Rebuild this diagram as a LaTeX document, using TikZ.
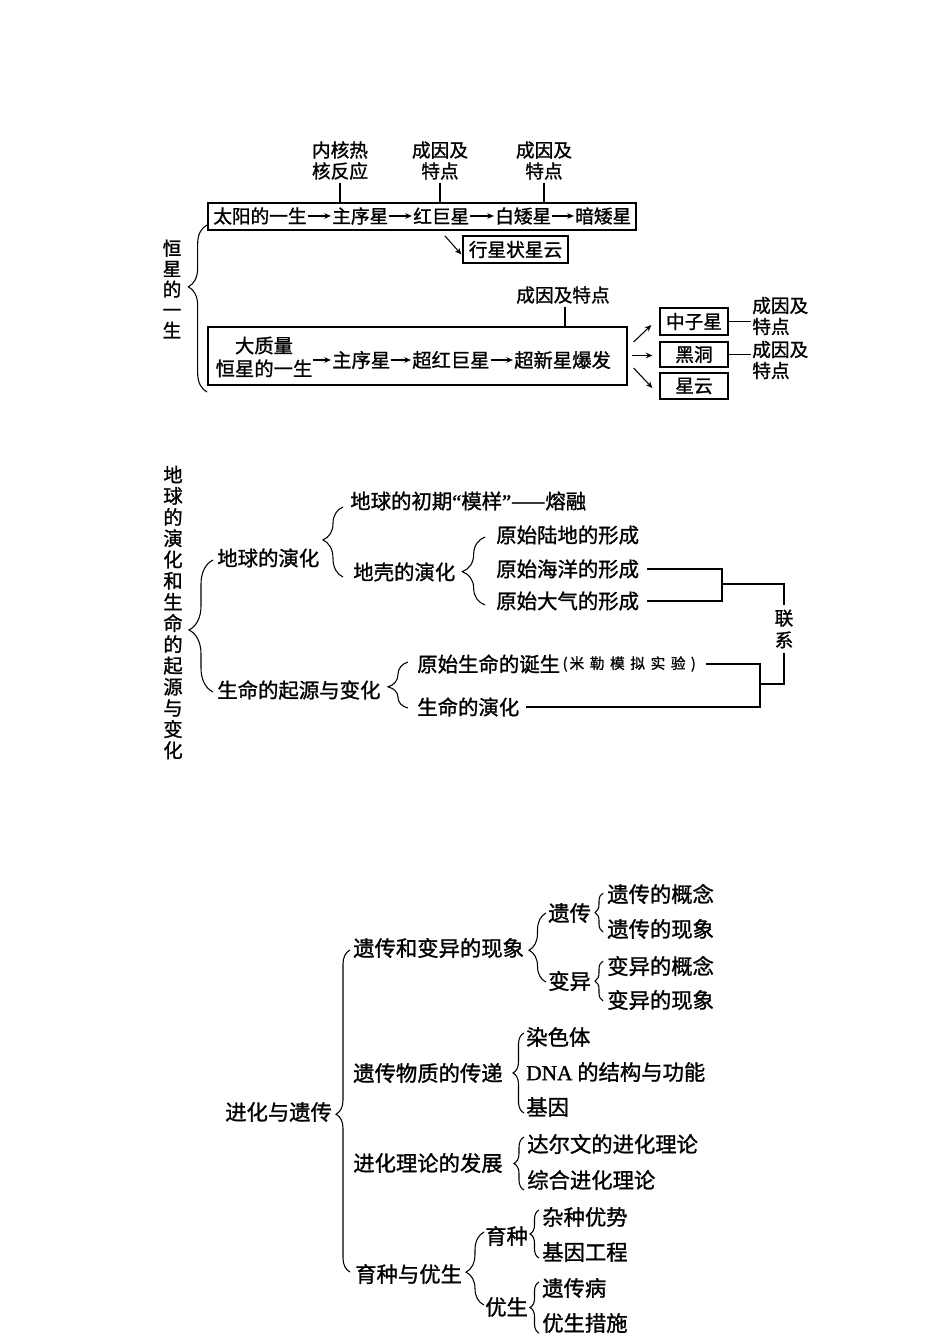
\documentclass[tikz,border=0pt]{standalone}
\usepackage{fontspec}
\newfontfamily\cjk[FakeBold=1.2]{Noto Sans CJK SC}
\newfontfamily\latin[FakeBold=1.2]{Liberation Serif}
\usetikzlibrary{arrows.meta,decorations.pathreplacing,fit,calc}
\begin{document}
\begin{tikzpicture}[x=0.75pt,y=-0.75pt,
 fa/.style={font=\cjk\fontsize{14}{15.75}\selectfont},
 fab/.style={font=\cjk\fontsize{14.5}{17.25}\selectfont},
 fb/.style={font=\cjk\fontsize{15.3}{16}\selectfont},
 fc/.style={font=\cjk\fontsize{16}{17}\selectfont},
 tx/.style={inner sep=0pt, anchor=west},
 boxn/.style={draw, line width=0.9pt, inner sep=0pt},
 arr/.style={-{Stealth[length=5pt,width=4.2pt]}, line width=0.8pt},
 ln/.style={line width=0.8pt},
 brc/.style={decorate, decoration={brace, amplitude=#1}, line width=0.8pt},
]
\useasboundingbox (0,0) rectangle (950,1344);
\fill[white] (0,0) rectangle (950,1344);

% ===== Section 1 =====
\node[tx,fa] (s1) at (213,216) {太阳的一生};
\node[tx,fa] (s2) at (332,216) {主序星};
\node[tx,fa] (s3) at (413,216) {红巨星};
\node[tx,fa] (s4) at (495,216) {白矮星};
\node[tx,fa] (s5) at (575,216) {暗矮星};
\draw[arr] ([xshift=0.5pt]s1.east) -- ([xshift=-0.8pt]s2.west);
\draw[arr] ([xshift=0.5pt]s2.east) -- ([xshift=-0.8pt]s3.west);
\draw[arr] ([xshift=0.5pt]s3.east) -- ([xshift=-0.8pt]s4.west);
\draw[arr] ([xshift=0.5pt]s4.east) -- ([xshift=-0.8pt]s5.west);
\node[boxn, fit={(208,203)(636,230)}] (b1) {};

\node[fa, align=center, inner sep=0pt] (l1) at (340,160.5) {内核热\\核反应};
\node[fa, align=center, inner sep=0pt] (l2) at (440,160.5) {成因及\\特点};
\node[fa, align=center, inner sep=0pt] (l3) at (544,160.5) {成因及\\特点};
\draw[ln] ([yshift=-2pt]l1.south) -- (l1.south |- b1.north);
\draw[ln] ([yshift=-2pt]l2.south) -- (l2.south |- b1.north);
\draw[ln] ([yshift=-2pt]l3.south) -- (l3.south |- b1.north);

\node[boxn, fa, minimum width=78.75pt, minimum height=20.25pt] (pn) at (515.5,249.5) {行星状星云};
\coordinate (pa) at (445,236);
\draw[arr] (pa) -- ($(pn.west)+(-1,5)$);

\draw[brc=14pt, decoration={aspect=0.63}] (207,392) -- (207,225);
\node[font=\cjk\fontsize{14}{15.4}\selectfont, align=center, inner sep=0pt] (v1) at (172,289) {恒\\星\\的\\一\\生};

\node[fa, inner sep=0pt] (l4) at (563,295) {成因及特点};
\node[boxn, fit={(208,327)(627,385)}] (b2) {};
\draw[ln] ([yshift=-2pt]l4.south -| 565,0) -- (565,300 |- b2.north);
\node[fab, align=center, inner sep=0pt] (dz) at (264,357) {大质量\\恒星的一生};
\node[tx,fab] (t2) at (332,360) {主序星};
\node[tx,fab] (t3) at (412,360) {超红巨星};
\node[tx,fab] (t4) at (514,360) {超新星爆发};
\draw[arr] (dz.east |- t2.west) -- ([xshift=-0.8pt]t2.west);
\draw[arr] ([xshift=0.5pt]t2.east) -- ([xshift=-0.8pt]t3.west);
\draw[arr] ([xshift=0.5pt]t3.east) -- ([xshift=-0.8pt]t4.west);

\node[boxn, fa, minimum width=51pt, minimum height=20.25pt] (zz) at (694,321.5) {中子星};
\node[boxn, fa, minimum width=51pt, minimum height=18.75pt] (hd) at (694,354.5) {黑洞};
\node[boxn, fa, minimum width=51pt, minimum height=19.5pt] (xy) at (694,386) {星云};
\draw[arr] ($(b2.east)+(6,-14)$) -- ($(zz.west)+(-8,3.5)$);
\draw[arr] ($(hd.west)+(-27,1)$) -- ($(hd.west)+(-7,1)$);
\draw[arr] ($(b2.east)+(6,12)$) -- ($(xy.west)+(-7,2)$);
\node[fa, align=left, inner sep=0pt, anchor=west] (c1) at (752,316) {成因及\\特点};
\node[fa, align=left, inner sep=0pt, anchor=west] (c2) at (752,360) {成因及\\特点};
\draw[ln] (zz.east) -- ([xshift=-1pt]zz.east -| c1.west);
\draw[ln] (hd.east) -- ([xshift=-1pt]hd.east -| c2.west);

% ===== Section 2 =====
\node[font=\cjk\fontsize{14.5}{15.9}\selectfont, align=center, inner sep=0pt] (v2) at (173,612.5)
  {地\\球\\的\\演\\化\\和\\生\\命\\的\\起\\源\\与\\变\\化};
\draw[brc=18pt, decoration={aspect=0.47}] (213,692) -- (213,560);
\node[tx,fb] (e1) at (217,558) {地球的演化};
\draw[brc=15pt, decoration={aspect=0.53}] (343,577) -- (343,507);
\node[tx,fb] (e2) at (350,501) {地球的初期{\latin “}模样{\latin ”}——熔融};
\node[tx,fb] (e3) at (353,572) {地壳的演化};
\draw[brc=17pt, decoration={aspect=0.49}] (485,605) -- (485,537);
\node[tx,fb] (e4) at (496,535) {原始陆地的形成};
\node[tx,fb] (e5) at (496,569) {原始海洋的形成};
\node[tx,fb] (e6) at (496,601) {原始大气的形成};
\draw[brc=15pt, decoration={aspect=0.46}] (408,708) -- (408,662);
\node[tx,fb] (e7) at (217,690) {生命的起源与变化};
\node[tx,fb] (e8) at (417,664) {原始生命的诞生};
\node[tx, font=\cjk\fontsize{11}{12}\selectfont] (e9) at ($(e8.east)+(2,0)$) {(\hspace{1.5pt}米\hspace{4.2pt}勒\hspace{4.2pt}模\hspace{4.2pt}拟\hspace{4.2pt}实\hspace{4.2pt}验\hspace{4pt})};
\node[tx,fb] (e10) at (417,707) {生命的演化};
\node[font=\cjk\fontsize{14}{16.5}\selectfont, align=center, inner sep=3pt] (lx) at (784,629) {联\\系};
\coordinate (j1) at (722,584);
\coordinate (j2) at (760,684);
\draw[ln] ($(e5.east)+(8,0)$) -- (e5.east -| j1) -- (e6.east -| j1) -- ($(e6.east)+(8,0)$);
\draw[ln] (j1) -| (lx.north);
\draw[ln] (lx.south) |- (j2);
\draw[ln] ($(e9.east)+(10,0)$) -| (j2) |- ($(e10.east)+(6,0)$);

% ===== Section 3 =====
\node[tx,fc] (g0) at (225,1112) {进化与遗传};
\draw[brc=10.5pt, decoration={aspect=0.49}] (350,1272) -- (350,950);
\node[tx,fc] (g1) at (353,948) {遗传和变异的现象};
\draw[brc=12.75pt, decoration={aspect=0.46}] (546,982) -- (546,913);
\node[tx,fc] (g2) at (548,913) {遗传};
\draw[brc=6pt] (603,932) -- (603,893);
\node[tx,fc] (g3) at (607,894) {遗传的概念};
\node[tx,fc] (g4) at (607,929) {遗传的现象};
\node[tx,fc] (g5) at (548,981) {变异};
\draw[brc=6pt] (603,1001) -- (603,961);
\node[tx,fc] (g6) at (607,966) {变异的概念};
\node[tx,fc] (g7) at (607,1000) {变异的现象};
\node[tx,fc] (g8) at (353,1073) {遗传物质的传递};
\draw[brc=8.25pt] (524,1113) -- (524,1033);
\node[tx,fc] (g9) at (526,1037) {染色体};
\node[tx,fc] (g10) at (526,1072) {{\latin DNA} 的结构与功能};
\node[tx,fc] (g11) at (526,1107) {基因};
\node[tx,fc] (g12) at (353,1163) {进化理论的发展};
\draw[brc=7.5pt] (524,1190) -- (524,1137);
\node[tx,fc] (g13) at (527,1144) {达尔文的进化理论};
\node[tx,fc] (g14) at (527,1180) {综合进化理论};
\node[tx,fc] (g15) at (355,1274) {育种与优生};
\draw[brc=13.5pt, decoration={aspect=0.45}] (484,1305) -- (484,1232);
\node[tx,fc] (g16) at (485,1236) {育种};
\draw[brc=6.75pt] (539,1258) -- (539,1210);
\node[tx,fc] (g17) at (542,1217) {杂种优势};
\node[tx,fc] (g18) at (542,1252) {基因工程};
\node[tx,fc] (g19) at (485,1307) {优生};
\draw[brc=6.75pt] (539,1333) -- (539,1282);
\node[tx,fc] (g20) at (542,1288) {遗传病};
\node[tx,fc] (g21) at (542,1323) {优生措施};
\end{tikzpicture}
\end{document}
